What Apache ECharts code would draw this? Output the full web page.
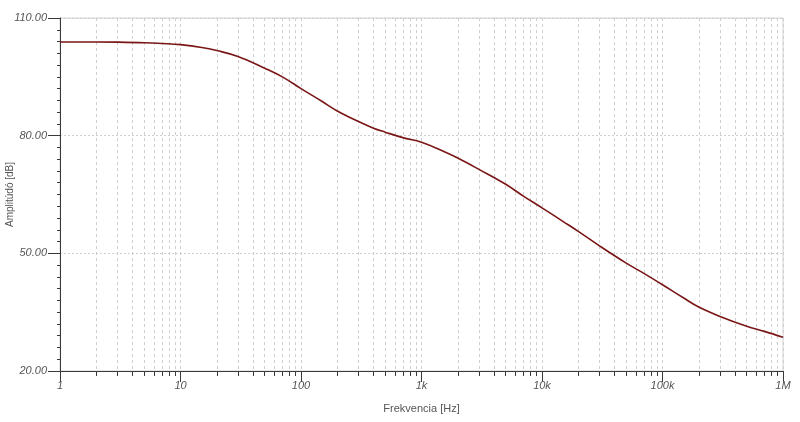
<!DOCTYPE html>
<html>
<head>
<meta charset="utf-8">
<script src="https://cdn.jsdelivr.net/npm/echarts@6/dist/echarts.min.js"></script>
<style>
  html, body { margin: 0; padding: 0; background: #fff; }
  #chart { width: 800px; height: 422px; }
</style>
</head>
<body>
<div id="chart"></div>
<script>
// Data
const frequencies = [1, 2, 3, 5, 7, 10, 15, 20, 30, 50, 70, 100, 150, 200, 300, 400, 500, 700,
  1000, 1500, 2000, 3000, 5000, 7000, 10000, 15000, 20000, 30000, 50000, 70000,
  100000, 150000, 200000, 300000, 500000, 700000, 1000000];
const amplitudes = [103.9, 103.9, 103.85, 103.7, 103.5, 103.2, 102.5, 101.7, 100.2, 97.2, 95.0, 92.0,
  88.7, 86.3, 83.6, 81.9, 80.9, 79.5, 78.3, 76.1, 74.3, 71.4, 67.6, 64.6, 61.6, 58.1, 55.6,
  51.9, 47.5, 44.9, 42.0, 38.6, 36.3, 33.9, 31.4, 30.1, 28.6];
const majorTicks = [1, 10, 100, 1000, 10000, 100000, 1000000];
const minorTicks = [];
for (const d of [1, 10, 100, 1000, 10000, 100000]) {
  for (const m of [1, 2, 3, 4, 5, 6, 7, 8, 9]) minorTicks.push(d * m);
}
minorTicks.push(1000000);

const fontFam = 'Liberation Sans, Arial, sans-serif';
const chart = echarts.init(document.getElementById('chart'), null, { renderer: 'canvas' });

function fmtFreq(v) {
  if (v >= 1e6) return (v / 1e6) + 'M';
  if (v >= 1e3) return (v / 1e3) + 'k';
  return String(v);
}

chart.setOption({
  animation: false,
  backgroundColor: '#ffffff',
  grid: {
    left: 60, right: 17, top: 18, bottom: 51, containLabel: false, outerBoundsMode: 'none',
    show: true, borderColor: '#d0d0d0', borderWidth: 1
  },
  xAxis: [
    {
      type: 'log', logBase: 10, min: 1, max: 1000000, position: 'bottom',
      axisLine: { show: true, lineStyle: { color: '#3a3a3a', width: 1 } },
      axisTick: { show: true, length: 5, customValues: minorTicks, lineStyle: { color: '#3a3a3a' } },
      axisLabel: { show: false },
      splitLine: { show: true, lineStyle: { color: '#cfcfcf', type: [3, 3], width: 1 } },
      minorTick: { show: false }
    },
    {
      type: 'log', logBase: 10, min: 1, max: 1000000, position: 'bottom', offset: 0,
      name: 'Frekvencia [Hz]', nameLocation: 'middle', nameGap: 32, nameMoveOverlap: false,
      nameTextStyle: { color: '#555', fontSize: 11, fontFamily: fontFam },
      axisLine: { show: false },
      axisTick: { show: true, length: 11, customValues: majorTicks, lineStyle: { color: '#3a3a3a' } },
      axisLabel: {
        show: true, customValues: majorTicks, margin: 9, formatter: fmtFreq,
        color: '#555', fontStyle: 'italic', fontSize: 11, fontFamily: fontFam
      },
      splitLine: { show: false }
    }
  ],
  yAxis: {
    type: 'value', min: 20, max: 110, interval: 30,
    name: 'Amplitúdó [dB]', nameLocation: 'middle', nameGap: 45, nameRotate: 90, nameMoveOverlap: false,
    nameTextStyle: { color: '#555', fontSize: 10, fontFamily: fontFam },
    axisLine: { show: true, lineStyle: { color: '#3a3a3a', width: 1 } },
    axisTick: { show: true, length: 12, lineStyle: { color: '#3a3a3a' } },
    minorTick: { show: true, splitNumber: 10, length: 3, lineStyle: { color: '#3a3a3a' } },
    axisLabel: {
      margin: 13, formatter: v => v.toFixed(2),
      color: '#555', fontStyle: 'italic', fontSize: 11, fontFamily: fontFam
    },
    splitLine: { show: true, lineStyle: { color: '#cfcfcf', type: [2, 2], width: 1 } }
  },
  series: [{
    type: 'line', xAxisIndex: 0,
    data: frequencies.map((f, i) => [f, amplitudes[i]]),
    showSymbol: false, smooth: 0.4,
    lineStyle: { color: '#7a1616', width: 1.6 },
    itemStyle: { color: '#7a1616' }
  }]
});
</script>
</body>
</html>
